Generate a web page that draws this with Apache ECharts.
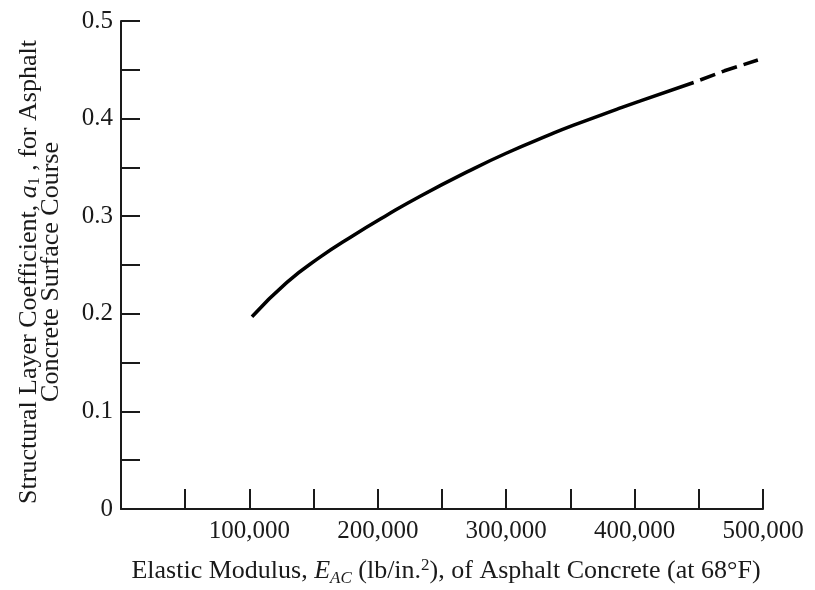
<!DOCTYPE html>
<html>
<head>
<meta charset="utf-8">
<script src="https://cdn.jsdelivr.net/npm/echarts@6/dist/echarts.min.js"></script>
<style>html,body{margin:0;padding:0;background:#fff}#c{width:815px;height:590px}</style>
</head>
<body>
<div id="c"></div>
<script>
// Elastic modulus (lb/in.^2) vs structural layer coefficient a1
const solidX = [102000, 129000, 155000, 180000, 207000, 233000, 272000, 300000, 334000, 352000, 386000, 404000, 446000];
const solidY = [0.197, 0.232, 0.258, 0.2795, 0.301, 0.3205, 0.347, 0.3645, 0.3835, 0.393, 0.4095, 0.418, 0.437];
const dashX = [446000, 470000, 496000];
const dashY = [0.437, 0.449, 0.460];
const xTickLabels = ['100,000', '200,000', '300,000', '400,000', '500,000'];
const yTickLabels = ['0', '0.1', '0.2', '0.3', '0.4', '0.5'];

const FONT = 'Liberation Serif';
const INK = '#1a1a1a';

const chart = echarts.init(document.getElementById('c'), null, {renderer: 'canvas'});
chart.setOption({
  animation: false,
  backgroundColor: '#fff',
  grid: {left: 121, right: 52, top: 21, bottom: 81, containLabel: false, outerBoundsMode: 'none'},
  xAxis: {
    type: 'value', min: 0, max: 500000, interval: 50000,
    axisLine: {lineStyle: {color: INK, width: 2}},
    axisTick: {inside: true, length: 20, lineStyle: {color: INK, width: 2}},
    splitLine: {show: false},
    axisLabel: {
      fontFamily: FONT, fontSize: 25, color: INK, margin: 10,
      formatter: v => (v > 0 && v % 100000 === 0) ? xTickLabels[v / 100000 - 1] : ''
    },
    name: 'Elastic Modulus, {i|E}{sub|AC} (lb/in.{sup|2}), of Asphalt Concrete (at 68°F)',
    nameLocation: 'middle', nameGap: 47,
    nameTextStyle: {
      fontFamily: FONT, fontSize: 26, color: INK,
      padding: [0, 0, 0, 8],
      rich: {
        i: {fontFamily: FONT, fontSize: 26, fontStyle: 'italic', color: INK},
        sub: {fontFamily: FONT, fontSize: 17, fontStyle: 'italic', color: INK, padding: [14, 0, 0, 0]},
        sup: {fontFamily: FONT, fontSize: 17, color: INK, padding: [0, 0, 12, 0]}
      }
    }
  },
  yAxis: {
    type: 'value', min: 0, max: 0.5, interval: 0.05,
    axisLine: {show: true, lineStyle: {color: INK, width: 2}},
    axisTick: {show: true, inside: true, length: 19, lineStyle: {color: INK, width: 2}},
    splitLine: {show: false},
    axisLabel: {
      fontFamily: FONT, fontSize: 25, color: INK, margin: 8,
      formatter: v => {
        const k = Math.round(v * 100);
        return k % 10 === 0 ? yTickLabels[k / 10] : '';
      }
    },
    name: 'Structural Layer Coefficient, {i|a}{sub|1} , for Asphalt\nConcrete Surface Course',
    nameLocation: 'middle', nameGap: 59, nameRotate: 90,
    nameTextStyle: {
      fontFamily: FONT, fontSize: 26, color: INK, lineHeight: 22,
      padding: [0, 14, 0, 0],
      rich: {
        i: {fontFamily: FONT, fontSize: 26, fontStyle: 'italic', color: INK, lineHeight: 22},
        sub: {fontFamily: FONT, fontSize: 16, color: INK, padding: [12, 0, 0, 0]}
      }
    }
  },
  series: [
    {
      type: 'line', smooth: true, showSymbol: false,
      data: solidX.map((x, i) => [x, solidY[i]]),
      lineStyle: {color: '#000', width: 3.5}
    },
    {
      type: 'line', smooth: false, showSymbol: false,
      data: dashX.map((x, i) => [x, dashY[i]]),
      lineStyle: {color: '#000', width: 3.5, type: [16, 7], dashOffset: 16}
    }
  ]
});
</script>
</body>
</html>
